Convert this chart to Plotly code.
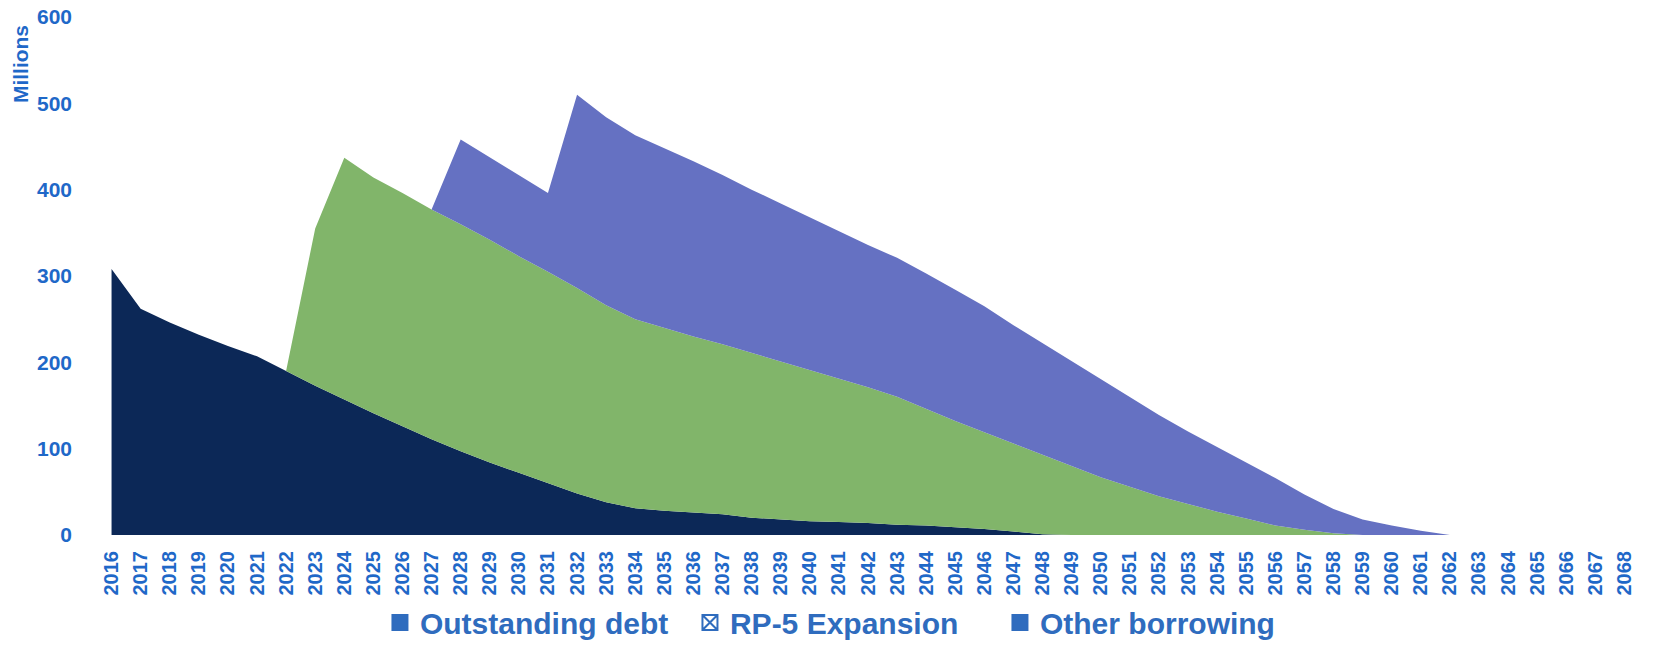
import plotly.graph_objects as go

years = list(range(2016, 2069))

outstanding_debt = [308, 262, 246, 232, 219, 207, 190, 173, 157, 141, 126, 111, 97, 84, 72, 60,
                    48, 38, 31, 28, 26, 24, 20, 18, 16, 15, 14, 12, 11, 9, 7, 4, 1] + [0] * 20

rp5_expansion = [0] * 7 + [182, 280, 273, 270, 266, 263, 258, 251, 245, 238, 228, 219, 212, 204,
                           197, 191, 183, 175, 166, 157, 148, 135, 123, 112, 102, 92, 80, 67, 56,
                           45, 36, 27, 19, 11, 6, 2] + [0] * 10

other_borrowing = [0] * 12 + [98, 95, 93, 91, 224, 218, 213, 208, 203, 196, 189, 183, 177, 171,
                              165, 161, 157, 152, 146, 137, 129, 121, 113, 103, 94, 84, 75, 65,
                              55, 41, 28, 18, 11, 5] + [0] * 7

series_names = ["Outstanding debt", "RP-5 Expansion", "Other borrowing"]
fill_colors = ["#0c2857", "#81b56a", "#6571c2"]
legend_symbols = ["square", "square-x-open", "square"]

TICK_BLUE = "#1f68c8"
LEGEND_BLUE = "#2f6cbe"
FONT = "Liberation Sans, Arial, sans-serif"

fig = go.Figure()
for name, vals, col in zip(series_names, [outstanding_debt, rp5_expansion, other_borrowing], fill_colors):
    fig.add_trace(go.Scatter(
        x=years, y=vals, name=name, mode="lines", stackgroup="one",
        line=dict(width=0, color=col), fillcolor=col, showlegend=False,
        legendgroup=name, hoverinfo="x+y+name"))

for name, sym in zip(series_names, legend_symbols):
    fig.add_trace(go.Scatter(
        x=[None], y=[None], name=name, mode="markers", legendgroup=name,
        marker=dict(symbol=sym, size=15, color=LEGEND_BLUE, line=dict(width=2, color=LEGEND_BLUE)),
        showlegend=True))

fig.update_layout(
    width=1658, height=645,
    margin=dict(l=97, r=19, t=17, b=110, autoexpand=False),
    paper_bgcolor="white", plot_bgcolor="white",
    font=dict(family=FONT, color=TICK_BLUE),
    showlegend=True,
    legend=dict(orientation="h", x=0.1835, xanchor="left",
                yref="container", y=0.035, yanchor="middle",
                font=dict(family=FONT, size=30, color=LEGEND_BLUE, weight="bold"),
                entrywidth=265, entrywidthmode="pixels", itemwidth=30,
                bgcolor="rgba(0,0,0,0)"),
    xaxis=dict(range=[2015.5, 2068.5], tickmode="array", tickvals=years,
               ticktext=[str(y) for y in years], tickangle=-90, showgrid=False,
               zeroline=False, showline=False, ticks="", ticklabelstandoff=11,
               automargin=False,
               tickfont=dict(family=FONT, size=20, color=TICK_BLUE, weight="bold")),
    yaxis=dict(range=[0, 600], tickvals=[0, 100, 200, 300, 400, 500, 600], showgrid=False,
               zeroline=False, showline=False, ticks="", ticklabelstandoff=24,
               automargin=False,
               tickfont=dict(family=FONT, size=21, color=TICK_BLUE, weight="bold")),
    annotations=[dict(text="Millions", textangle=-90, xref="paper", yref="paper",
                      x=-0.05, y=0.988, xanchor="center", yanchor="top", showarrow=False,
                      font=dict(family=FONT, size=21, color=TICK_BLUE, weight="bold"))],
)

fig.write_html("out.html",
               config={"displayModeBar": False},
               post_script="document.body.style.margin='0px';document.body.style.padding='0px';")
